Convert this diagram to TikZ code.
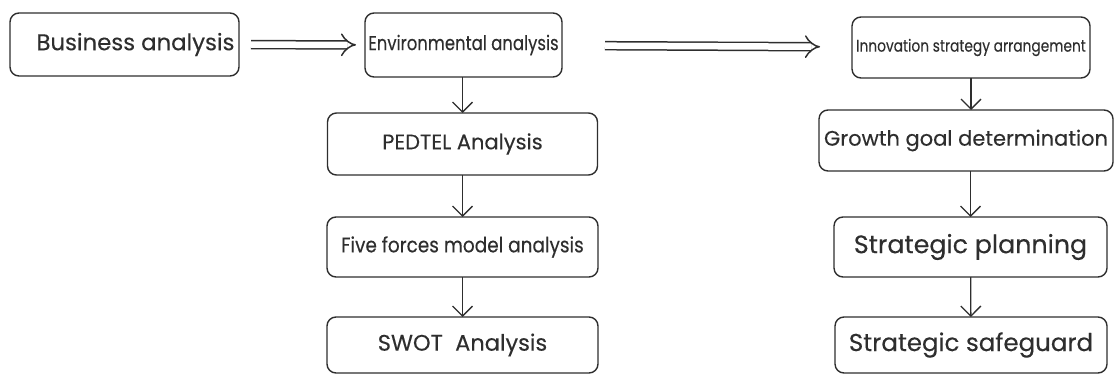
\documentclass[tikz,border=0pt]{standalone}
\usepackage{fontspec}
\setmainfont[FakeBold=0.25]{Poppins}
\newfontfamily\narrowfont[FakeStretch=0.82, FakeBold=0.25]{Poppins}
\newfontfamily\halfnarrowfont[FakeStretch=0.88, FakeBold=0.25]{Poppins}
\usetikzlibrary{arrows.meta}

\definecolor{inkgray}{HTML}{2E2E2E}

\tikzset{
    stage/.style={draw=inkgray, line width=1.4pt, rounded corners=9pt,
        inner sep=0pt, outer sep=0pt, text=inkgray, font=\fontsize{21}{24}\selectfont},
    flow/.style={draw=inkgray, line width=1.3pt, -{Straight Barb[length=10pt,width=20pt]}},
    bigflow/.style={draw=inkgray, line width=1.5pt, double, double distance=6.5pt, -{Implies[]}}
}

\begin{document}
\begin{tikzpicture}[x=1pt,y=-1pt]
            \useasboundingbox (0,0) rectangle (1115,374);

            % left column
            \begin{scope}[every node/.style={stage}]
                \node[minimum width=229, minimum height=63, font=\fontsize{22.8}{26}\selectfont] (biz) at (124.5,44.5) {\hspace*{22pt}Business analysis};
                \node[minimum width=197, minimum height=64, font=\narrowfont\fontsize{20.1}{22}\selectfont] (env) at (463.5,45) {Environmental analysis};
                \node[minimum width=270, minimum height=62] (pedtel) at (462.5,144) {PEDTEL Analysis};
                \node[minimum width=271, minimum height=60, font=\halfnarrowfont\fontsize{21}{24}\selectfont] (five) at (462.5,247) {Five forces model analysis};
                \node[minimum width=271, minimum height=56, font=\fontsize{22.5}{26}\selectfont] (swot) at (462.5,345) {SWOT\hspace{0.55em}Analysis};
            \end{scope}

            % right column
            \begin{scope}[every node/.style={stage}]
                \node[minimum width=238, minimum height=61, font=\narrowfont\fontsize{16.8}{20}\selectfont] (innov) at (971,47.5) {Innovation strategy arrangement};
                \node[minimum width=294, minimum height=61, font=\fontsize{21}{24}\selectfont] (growth) at (966,140.5) {Growth goal determination};
                \node[minimum width=273, minimum height=60, font=\fontsize{25.3}{28}\selectfont] (plan) at (970.5,247) {Strategic planning};
                \node[minimum width=272, minimum height=56, font=\fontsize{24.5}{28}\selectfont] (safe) at (971,345) {Strategic safeguard};
            \end{scope}

            % connectors
            \begin{scope}
                \path[bigflow, shorten <=12pt, shorten >=9pt] (biz) -- (env);
                \path[bigflow, shorten <=43pt, shorten >=32pt] (env) -- (innov);
                \path[flow] (env.south -| pedtel) -- (pedtel.north);
                \path[flow] (pedtel) -- (five);
                \path[flow] (five) -- (swot);
                \path[flow] (innov.south) -- (innov.south |- growth.north);
                \path[flow] (growth.south -| plan) -- (plan.north);
                \path[flow] (plan) -- (safe);
            \end{scope}
\end{tikzpicture}
\end{document}
